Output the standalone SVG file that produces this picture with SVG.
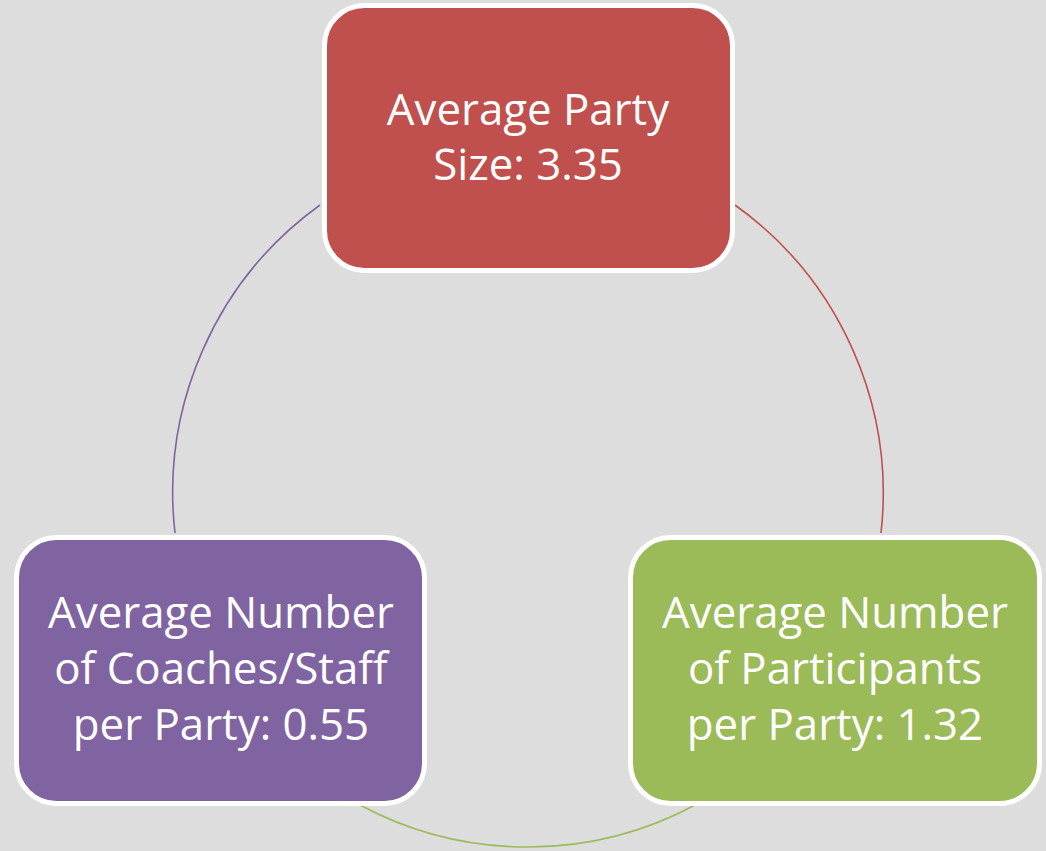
<svg xmlns="http://www.w3.org/2000/svg" width="1046" height="851" viewBox="0 0 1046 851">
<style>
.bg{fill:#DDDDDD}
.box{stroke:#FFFFFF;stroke-width:5}
.arc{fill:none;stroke-width:1.6}
.lbl{font-family:"Open Sans","Noto Sans","Liberation Sans",sans-serif;font-size:43.8px;fill:#FFFFFF;text-anchor:middle}
</style>
<rect class="bg" x="0" y="0" width="1046" height="851"/>
<g id="connectors">
<path class="arc" stroke="#C0504D" d="M735,205 A355,355 0 0 1 881,533"/>
<path class="arc" stroke="#9BBB59" d="M697,804 A355,355 0 0 1 360,805"/>
<path class="arc" stroke="#8064A2" d="M175,533 A355,355 0 0 1 320,205"/>
</g>
<g id="node-party-size">
<rect class="box" x="324.5" y="5.5" width="408" height="265" rx="40" fill="#C0504D"/>
<text class="lbl" x="528" y="125">Average Party</text>
<text class="lbl" x="528" y="180">Size: 3.35</text>
</g>
<g id="node-participants">
<rect class="box" x="630.5" y="537.5" width="409" height="266" rx="40" fill="#9BBB59"/>
<text class="lbl" x="835" y="628">Average Number</text>
<text class="lbl" x="835" y="684">of Participants</text>
<text class="lbl" x="835" y="740">per Party: 1.32</text>
</g>
<g id="node-coaches">
<rect class="box" x="16.5" y="537.5" width="408" height="266" rx="40" fill="#8064A2"/>
<text class="lbl" x="221" y="628">Average Number</text>
<text class="lbl" x="221" y="684">of Coaches/Staff</text>
<text class="lbl" x="221" y="740">per Party: 0.55</text>
</g>
</svg>
